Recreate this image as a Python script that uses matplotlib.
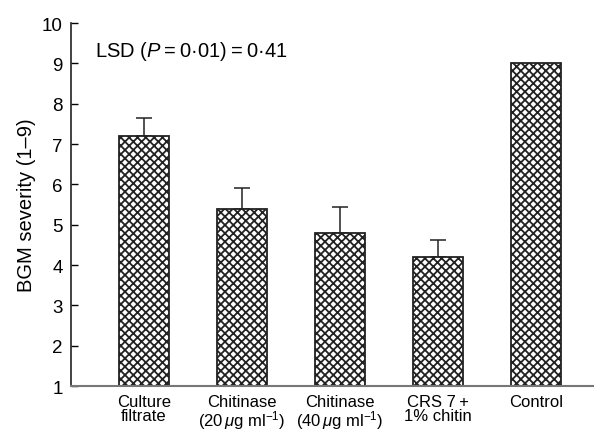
import matplotlib
matplotlib.use("Agg")
import matplotlib.pyplot as plt
import numpy as np

categories = ["Culture\nfiltrate", "Chitinase\n(20$\\,\\mathit{\\mu}$g ml$^{-1}$)", "Chitinase\n(40$\\,\\mathit{\\mu}$g ml$^{-1}$)",
              "CRS 7\u2009+\n1% chitin", "Control"]
values = [7.2, 5.4, 4.8, 4.2, 9.0]
errors = [0.45, 0.52, 0.65, 0.43, 0.0]
yticks = [1, 2, 3, 4, 5, 6, 7, 8, 9, 10]

plt.rcParams['font.family'] = ['Liberation Sans', 'DejaVu Sans']
plt.rcParams['mathtext.fontset'] = 'custom'
plt.rcParams['mathtext.rm'] = 'Liberation Sans'
plt.rcParams['mathtext.it'] = 'Liberation Sans:italic'
plt.rcParams['mathtext.default'] = 'regular'
plt.rcParams['hatch.color'] = '#222222'
plt.rcParams['hatch.linewidth'] = 1.3

fig = plt.figure(figsize=(6.05, 4.31), dpi=100)
ax = fig.add_axes([0.1174, 0.102, 0.8626, 0.842])

x = np.arange(len(values))
err_lo = [0] * len(errors)
bars = ax.bar(x, values, width=0.51, bottom=0, color='white', edgecolor='#222222',
              linewidth=1.3, hatch='xxxx', zorder=2)
ax.errorbar(x[:4], values[:4], yerr=[err_lo[:4], errors[:4]], fmt='none',
            ecolor='#222222', elinewidth=1.1, capsize=6, capthick=1.1, zorder=1)

ax.set_ylim(1, 10)
ax.set_xlim(-0.745, 4.58)
ax.set_yticks(yticks)
ax.set_yticklabels([str(t) for t in yticks], fontsize=13.5)
ax.set_xticks(x)
ax.set_xticklabels(categories, fontsize=12, linespacing=0.9)
ax.tick_params(axis='x', length=0, pad=6)
ax.tick_params(axis='y', direction='in', length=5, width=1, pad=6)

ax.spines['top'].set_visible(False)
ax.spines['right'].set_visible(False)
ax.spines['left'].set_linewidth(1.2)
ax.spines['left'].set_color('#222222')
ax.spines['bottom'].set_linewidth(1.5)
ax.spines['bottom'].set_color('#777777')
ax.spines['bottom'].set_zorder(3)

ax.set_ylabel("BGM severity (1–9)", fontsize=14.5, labelpad=4)
ax.text(0.045, 0.925, "LSD ($\\mathit{P}$\u2009=\u20090·01)\u2009=\u20090·41", transform=ax.transAxes,
        fontsize=14.5, ha='left', va='center')

fig.savefig("out.png", dpi=100)
